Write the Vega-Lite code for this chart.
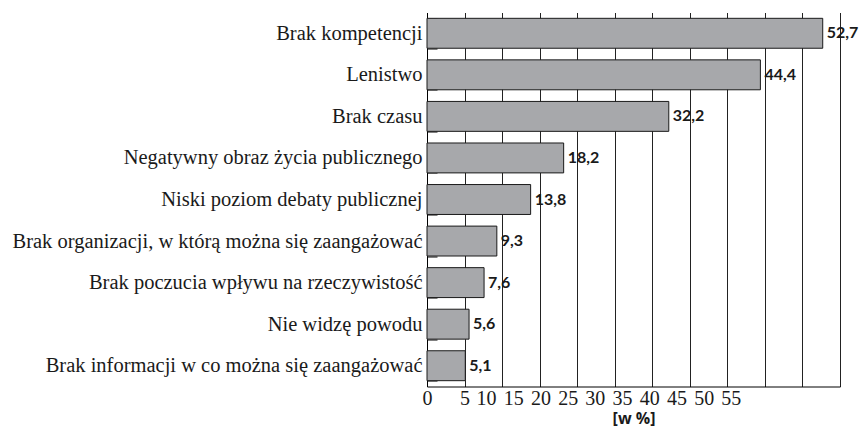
{
  "$schema": "https://vega.github.io/schema/vega-lite/v6.json",
  "autosize": "none",
  "width": 413,
  "height": 374,
  "padding": {"left": 427, "top": 12.5, "right": 20, "bottom": 41.5},
  "background": "white",
  "config": {
    "view": {"stroke": null},
    "locale": {"number": {"decimal": ",", "thousands": " ", "grouping": [3], "currency": ["", " zł"]}}
  },
  "data": {
    "values": [
      {"reason": "Brak kompetencji", "value": 52.7},
      {"reason": "Lenistwo", "value": 44.4},
      {"reason": "Brak czasu", "value": 32.2},
      {"reason": "Negatywny obraz życia  publicznego", "value": 18.2},
      {"reason": "Niski poziom debaty publicznej", "value": 13.8},
      {"reason": "Brak organizacji, w którą można się zaangażować", "value": 9.3},
      {"reason": "Brak poczucia wpływu na rzeczywistość", "value": 7.6},
      {"reason": "Nie widzę powodu", "value": 5.6},
      {"reason": "Brak informacji w co można się zaangażować", "value": 5.1}
    ]
  },
  "encoding": {
    "y": {
      "field": "reason",
      "type": "nominal",
      "sort": null,
      "scale": {"paddingInner": 0.28, "paddingOuter": 0.14},
      "axis": {
        "title": null,
        "labelFont": "Liberation Serif",
        "labelFontSize": 20.5,
        "labelColor": "#1a1a1a",
        "labelPadding": 15,
        "labelLimit": 500,
        "tickSize": -10,
        "tickBand": "extent",
        "tickColor": "#000",
        "domainColor": "#000",
        "grid": false
      }
    },
    "x": {
      "field": "value",
      "type": "quantitative",
      "scale": {"domain": [0, 55], "nice": false},
      "axis": {
        "values": [0, 5, 10, 15, 20, 25, 30, 35, 40, 45, 50, 55],
        "grid": true,
        "gridColor": "#222",
        "gridOpacity": 1,
        "ticks": false,
        "domainColor": "#000",
        "labelFont": "Liberation Serif",
        "labelFontSize": 20,
        "labelColor": "#1a1a1a",
        "labelPadding": 2,
        "labelFlush": false,
        "labelOverlap": false,
        "labelOffset": {"expr": "datum.value < 10 ? 0 : -16 - (datum.value - 10) * 2.07"},
        "title": "[w %]",
        "titleFont": "Open Sans",
        "titleFontWeight": "bold",
        "titleFontSize": 16,
        "titleColor": "#1a1a1a",
        "titlePadding": 2
      }
    }
  },
  "layer": [
    {"mark": {"type": "bar", "color": "#a7a8ab", "stroke": "#1a1a1a", "strokeWidth": 1}},
    {
      "mark": {"type": "text", "align": "left", "baseline": "middle", "dx": 4, "font": "Lato", "fontWeight": "bold", "fontSize": 16, "color": "#1a1a1a"},
      "encoding": {"text": {"field": "value", "type": "quantitative", "format": ".1f"}}
    }
  ]
}
